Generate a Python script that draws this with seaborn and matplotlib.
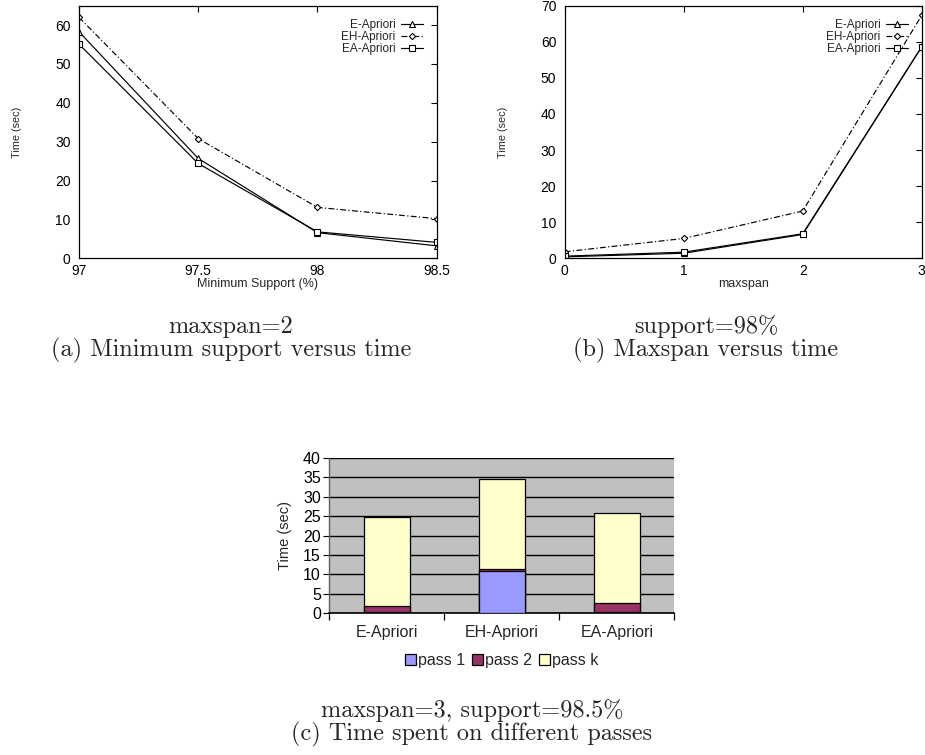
import matplotlib
matplotlib.use("Agg")
import matplotlib.pyplot as plt
from matplotlib.patches import Patch
import numpy as np
import pandas as pd
import seaborn as sns

# ---------------- data ----------------
series_names = ["E-Apriori", "EH-Apriori", "EA-Apriori"]

support_x = [97.0, 97.5, 98.0, 98.5]
support_e = [58.3, 25.7, 6.6, 3.2]
support_eh = [62.0, 30.8, 13.1, 10.2]
support_ea = [55.1, 24.4, 6.8, 4.1]
support_ticks = ["97", "97.5", "98", "98.5"]

maxspan_x = [0, 1, 2, 3]
maxspan_e = [0.4, 1.4, 6.6, 58.6]
maxspan_eh = [1.8, 5.5, 13.1, 67.3]
maxspan_ea = [0.6, 1.7, 6.8, 58.6]
maxspan_ticks = ["0", "1", "2", "3"]

pass_cats = ["E-Apriori", "EH-Apriori", "EA-Apriori"]
pass1 = [0.2, 10.9, 0.2]
pass2 = [1.6, 0.4, 2.3]
passk = [23.0, 23.3, 23.3]
pass_labels = ["pass 1", "pass 2", "pass k"]

caption_a = ["maxspan=2", "(a) Minimum support versus time"]
caption_b = ["support=98%", "(b) Maxspan versus time"]
caption_c = ["maxspan=3, support=98.5%", "(c) Time spent on different passes"]

# ---------------- style ----------------
sns.set_style("white")
plt.rcParams["font.family"] = ["Liberation Sans", "DejaVu Sans"]

W, H = 925, 755
fig = plt.figure(figsize=(W / 100, H / 100), dpi=100)


def rect(l, t, r, b):
    return [l / W, 1 - b / H, (r - l) / W, (b - t) / H]


styles = {
    "E-Apriori": dict(marker="^", ms=5.0, ls="-"),
    "EH-Apriori": dict(marker="D", ms=3.2, ls=(0, (5, 2, 1, 2))),
    "EA-Apriori": dict(marker="s", ms=5.0, ls="-"),
}


def line_panel(ax, xs, ys_list, xticks, xticklabels, ylim, yticks, xlabel):
    for name, ys in zip(series_names, ys_list):
        st = styles[name]
        sns.lineplot(x=xs, y=ys, ax=ax, color="black", lw=0.85,
                     linestyle=st["ls"], marker=st["marker"],
                     markersize=st["ms"], markerfacecolor="white",
                     markeredgecolor="black", markeredgewidth=0.8,
                     label=name)
    ax.set_xlim(xticks[0], xticks[-1])
    ax.set_ylim(*ylim)
    ax.set_xticks(xticks)
    ax.set_xticklabels(xticklabels)
    ax.set_yticks(yticks)
    ax.tick_params(direction="in", length=4, width=0.8, top=True, right=True,
                   labelsize=10, colors="black")
    ax.tick_params(axis="y", pad=6)
    ax.tick_params(axis="x", pad=4)
    for s in ax.spines.values():
        s.set_visible(True)
        s.set_color("black")
        s.set_linewidth(0.9)
    ax.set_xlabel(xlabel, fontsize=9, va="center")
    ax.xaxis.set_label_coords(0.5, -0.1)
    ax.set_ylabel("Time (sec)", fontsize=7.8, va="center")
    ax.yaxis.set_label_coords(-0.173, 0.5)
    ax.legend(loc="upper right", bbox_to_anchor=(0.962, 0.948),
              frameon=False, markerfirst=False, fontsize=8.5,
              borderaxespad=0, borderpad=0, labelspacing=0.0,
              handlelength=1.9, handletextpad=0.45, handleheight=0.6)


ax1 = fig.add_axes(rect(79, 5.7, 436.7, 258.3))
line_panel(ax1, support_x, [support_e, support_eh, support_ea],
           support_x, support_ticks, (0, 65), range(0, 61, 10),
           "Minimum Support (%)")

ax2 = fig.add_axes(rect(564.7, 5.7, 921.7, 258.3))
line_panel(ax2, maxspan_x, [maxspan_e, maxspan_eh, maxspan_ea],
           maxspan_x, maxspan_ticks, (0, 70), range(0, 71, 10),
           "maxspan")

# ---------------- stacked bar panel ----------------
ax3 = fig.add_axes(rect(329.3, 458, 674.3, 613))
ax3.set_facecolor("#C0C0C0")
colors = ["#9999FF", "#993366", "#FFFFCC"]
cum1 = np.array(pass1)
cum2 = cum1 + np.array(pass2)
cum3 = cum2 + np.array(passk)
df = pd.DataFrame({"cat": pass_cats, "c1": cum1, "c2": cum2, "c3": cum3})
for col, colr in zip(["c3", "c2", "c1"], colors[::-1]):
    sns.barplot(data=df, x="cat", y=col, ax=ax3, color=colr, width=0.4,
                edgecolor="black", linewidth=0.9, saturation=1, zorder=3)
ax3.set_xlim(-0.5, 2.5)
ax3.set_ylim(0, 40)
ax3.set_yticks(range(0, 41, 5))
ax3.set_axisbelow(True)
ax3.yaxis.grid(True, color="black", lw=1.0, zorder=0)
ax3.xaxis.grid(False)
ax3.tick_params(axis="y", direction="out", length=4, width=0.8,
                labelsize=11.5, pad=2, left=True, colors="black")
ax3.tick_params(axis="x", which="major", length=0, labelsize=11.5, pad=9)
ax3.set_xticks([-0.5, 0.5, 1.5, 2.5], minor=True)
ax3.tick_params(axis="x", which="minor", direction="out", length=5,
                width=0.9, bottom=True, color="black")
for side in ["top", "right"]:
    ax3.spines[side].set_visible(False)
ax3.spines["left"].set_color("#606060")
ax3.spines["left"].set_linewidth(1.0)
ax3.spines["bottom"].set_color("black")
ax3.spines["bottom"].set_linewidth(1.2)
ax3.set_xlabel("")
ax3.set_ylabel("Time (sec)", fontsize=10.5, va="center")
ax3.yaxis.set_label_coords(-0.128, 0.5)
handles = [Patch(facecolor=c, edgecolor="black", linewidth=0.9) for c in colors]
ax3.legend(handles, pass_labels, loc="center", bbox_to_anchor=(0.5, -0.305),
           ncol=3, frameon=False, fontsize=11.5, handlelength=0.7,
           handleheight=0.7, handletextpad=0.15, columnspacing=0.4,
           borderaxespad=0, borderpad=0)

# ---------------- captions ----------------
cap_kw = dict(family="cmr10", fontsize=17.5, ha="center", va="center")
fig.text(231 / W, 1 - 327 / H, caption_a[0], **cap_kw)
fig.text(231 / W, 1 - 350 / H, caption_a[1], **cap_kw)
fig.text(706 / W, 1 - 327 / H, caption_b[0], **cap_kw)
fig.text(706 / W, 1 - 350 / H, caption_b[1], **cap_kw)
fig.text(472 / W, 1 - 711 / H, caption_c[0], **cap_kw)
fig.text(472 / W, 1 - 734 / H, caption_c[1], **cap_kw)

fig.savefig("out.png", dpi=100, facecolor="white")
